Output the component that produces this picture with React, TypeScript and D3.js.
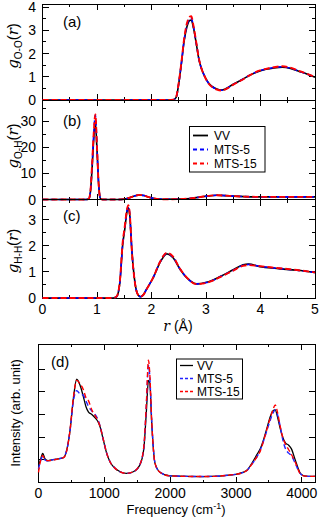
import React, { useEffect, useRef } from 'react';
import * as d3 from 'd3';

// radial distribution functions, g(r)
const rOO = [0, 2.3, 2.4, 2.45, 2.5, 2.55, 2.6, 2.65, 2.7, 2.73, 2.77, 2.82, 2.87, 2.92, 2.98, 3.05, 3.12, 3.2, 3.28, 3.35, 3.5, 3.65, 3.8, 3.95, 4.1, 4.25, 4.4, 4.55, 4.7, 4.85, 5.0];
const gOOvv = [0, 0, 0.01, 0.1, 0.7, 1.6, 2.55, 3.15, 3.42, 3.44, 3.1, 2.45, 1.75, 1.33, 1.0, 0.72, 0.57, 0.47, 0.43, 0.47, 0.68, 0.86, 1.06, 1.22, 1.32, 1.38, 1.41, 1.36, 1.24, 1.12, 0.98];
const gOOmts5 = [0, 0, 0.01, 0.1, 0.72, 1.62, 2.6, 3.22, 3.5, 3.52, 3.15, 2.47, 1.76, 1.33, 1.0, 0.71, 0.56, 0.46, 0.42, 0.46, 0.67, 0.86, 1.07, 1.23, 1.33, 1.4, 1.43, 1.37, 1.25, 1.12, 0.98];
const gOOmts15 = [0, 0, 0.01, 0.12, 0.75, 1.65, 2.65, 3.3, 3.58, 3.61, 3.2, 2.5, 1.78, 1.33, 0.99, 0.7, 0.55, 0.45, 0.41, 0.45, 0.66, 0.85, 1.06, 1.24, 1.34, 1.41, 1.45, 1.39, 1.26, 1.13, 0.98];

const rOH = [0, 0.8, 0.85, 0.88, 0.91, 0.94, 0.97, 1.0, 1.03, 1.06, 1.1, 1.4, 1.5, 1.6, 1.7, 1.78, 1.86, 1.95, 2.05, 2.2, 2.5, 2.7, 2.9, 3.05, 3.2, 3.35, 3.5, 3.7, 4.0, 4.5, 5.0];
const gOHvv = [0, 0, 0.3, 3, 12, 23, 29.5, 19, 6, 0.5, 0, 0, 0.15, 0.7, 1.4, 1.75, 1.5, 0.9, 0.4, 0.1, 0.15, 0.4, 0.95, 1.4, 1.6, 1.5, 1.3, 1.1, 1.0, 1.0, 1.0];
const gOHmts5 = [0, 0, 0.3, 3.2, 13, 25, 32.3, 20, 6, 0.5, 0, 0, 0.15, 0.7, 1.4, 1.75, 1.5, 0.9, 0.4, 0.1, 0.15, 0.4, 0.95, 1.4, 1.62, 1.5, 1.3, 1.1, 1.0, 1.0, 1.0];
const gOHmts15 = [0, 0, 0.3, 3.3, 13.5, 25.5, 32.6, 20, 6, 0.5, 0, 0, 0.15, 0.72, 1.42, 1.78, 1.52, 0.9, 0.4, 0.1, 0.15, 0.4, 0.95, 1.4, 1.62, 1.5, 1.3, 1.1, 1.0, 1.0, 1.0];

const rHH = [0, 1.3, 1.36, 1.42, 1.47, 1.51, 1.55, 1.575, 1.6, 1.64, 1.7, 1.76, 1.8, 1.85, 1.91, 2.03, 2.16, 2.28, 2.4, 2.52, 2.65, 2.83, 3.01, 3.26, 3.5, 3.68, 3.78, 3.99, 4.3, 4.67, 5.0];
const gHHvv = [0, 0, 0.05, 0.6, 2.0, 2.64, 3.3, 3.45, 3.2, 1.81, 0.54, 0.1, 0.05, 0.12, 0.34, 0.77, 1.37, 1.69, 1.53, 1.11, 0.77, 0.54, 0.6, 0.82, 1.08, 1.27, 1.3, 1.2, 1.13, 1.06, 0.98];
const gHHmts5 = [0, 0, 0.05, 0.62, 2.05, 2.7, 3.35, 3.5, 3.22, 1.8, 0.53, 0.1, 0.05, 0.12, 0.34, 0.78, 1.39, 1.71, 1.55, 1.12, 0.77, 0.54, 0.59, 0.81, 1.06, 1.25, 1.28, 1.21, 1.14, 1.06, 0.98];
const gHHmts15 = [0, 0, 0.06, 0.65, 2.1, 2.75, 3.4, 3.55, 3.25, 1.8, 0.52, 0.1, 0.05, 0.12, 0.33, 0.78, 1.4, 1.73, 1.57, 1.13, 0.78, 0.53, 0.58, 0.8, 1.05, 1.23, 1.26, 1.22, 1.15, 1.07, 0.98];

// vibrational spectra
const freq = [0, 30, 64, 100, 150, 200, 300, 380, 430, 480, 530, 580, 630, 680, 720, 760, 810, 860, 900, 935, 985, 1036, 1090, 1140, 1240, 1340, 1440, 1540, 1600, 1640, 1670, 1690, 1720, 1770, 1850, 2000, 2500, 3000, 3100, 3170, 3250, 3320, 3370, 3420, 3470, 3520, 3560, 3595, 3630, 3670, 3710, 3750, 3800, 3840, 3900, 3970, 4030, 4100, 4200];
const specVV = [0.75, 1.0, 1.29, 1.05, 0.97, 1.0, 1.05, 1.1, 1.44, 2.32, 3.71, 4.55, 4.3, 3.8, 3.35, 3.1, 3.0, 2.85, 2.7, 2.46, 1.88, 1.29, 0.9, 0.7, 0.48, 0.41, 0.48, 0.78, 1.5, 3.2, 4.5, 4.4, 2.6, 0.85, 0.45, 0.3, 0.27, 0.37, 0.45, 0.56, 0.9, 1.25, 1.5, 1.9, 2.4, 2.9, 3.15, 3.2, 2.9, 2.4, 2.0, 1.75, 1.65, 1.5, 1.0, 0.45, 0.3, 0.28, 0.28];
const specMTS5 = [0.6, 0.95, 1.15, 1.0, 0.95, 1.0, 1.05, 1.12, 1.45, 2.3, 3.6, 4.05, 3.9, 3.85, 3.6, 3.35, 3.15, 3.0, 2.8, 2.5, 1.88, 1.29, 0.9, 0.7, 0.48, 0.41, 0.48, 0.8, 1.55, 3.5, 5.15, 4.7, 2.7, 0.85, 0.45, 0.3, 0.27, 0.37, 0.44, 0.55, 0.85, 1.15, 1.45, 1.85, 2.3, 2.75, 3.05, 3.2, 3.0, 2.5, 1.9, 1.5, 1.3, 1.2, 0.85, 0.42, 0.3, 0.28, 0.28];
const specMTS15 = [0.45, 0.95, 1.2, 1.0, 0.97, 0.98, 1.05, 1.1, 1.42, 2.35, 3.75, 4.5, 4.35, 4.1, 3.75, 3.6, 3.2, 2.95, 2.75, 2.48, 1.9, 1.3, 0.9, 0.7, 0.48, 0.41, 0.48, 0.8, 1.6, 3.6, 5.39, 4.8, 2.7, 0.85, 0.45, 0.3, 0.27, 0.37, 0.44, 0.55, 0.85, 1.15, 1.4, 1.85, 2.35, 2.85, 3.2, 3.42, 3.1, 2.5, 2.0, 1.7, 1.45, 1.25, 0.9, 0.42, 0.3, 0.28, 0.28];

const seriesNames = ['VV', 'MTS-5', 'MTS-15'];
const FONT = '"Liberation Sans", Arial, Helvetica, sans-serif';

const App = () => {
  const svgRef = useRef<SVGSVGElement>(null);

  useEffect(() => {
    const svg = d3.select(svgRef.current);
    svg.selectAll('*').remove();
    svg.style('font-family', FONT);

    const left = 42.5, right = 315;
    const xR = d3.scaleLinear().domain([0, 5]).range([left, right]);

    const styles = [
      { color: '#000000', dash: null, width: 1.6 },
      { color: '#0000ff', dash: '5,3', width: 1.6 },
      { color: '#ff0000', dash: '6,3', width: 1.9 },
    ];

    const frame = (x, y, xMaj, xMin, yMaj, yMin) => {
      const [x0, x1] = x.range();
      const [y1, y0] = y.range();
      const g = svg.append('g').attr('stroke', '#000').attr('stroke-width', 1).attr('shape-rendering', 'crispEdges');
      const tick = (v, len, axis) => {
        if (axis === 'x') {
          g.append('line').attr('x1', x(v)).attr('x2', x(v)).attr('y1', y1).attr('y2', y1 - len);
          g.append('line').attr('x1', x(v)).attr('x2', x(v)).attr('y1', y0).attr('y2', y0 + len);
        } else {
          g.append('line').attr('y1', y(v)).attr('y2', y(v)).attr('x1', x0).attr('x2', x0 + len);
          g.append('line').attr('y1', y(v)).attr('y2', y(v)).attr('x1', x1).attr('x2', x1 - len);
        }
      };
      xMin.forEach(v => tick(v, 3, 'x'));
      xMaj.forEach(v => tick(v, 6, 'x'));
      yMin.forEach(v => tick(v, 3, 'y'));
      yMaj.forEach(v => tick(v, 6, 'y'));
      g.append('rect').attr('x', x0).attr('y', y0).attr('width', x1 - x0).attr('height', y1 - y0)
        .attr('fill', 'none');
    };

    const drawSeries = (x, y, xs, ys, st) => {
      const line = d3.line<number>()
        .x((_, i) => x(xs[i]))
        .y(d => y(d))
        .curve(d3.curveMonotoneX);
      svg.append('path')
        .attr('d', line(ys))
        .attr('fill', 'none')
        .attr('stroke', st.color)
        .attr('stroke-width', st.width)
        .attr('stroke-dasharray', st.dash);
    };

    const yLabel = (cx, cy, sub) => {
      const t = svg.append('text')
        .attr('transform', `translate(${cx},${cy}) rotate(-90)`)
        .attr('text-anchor', 'middle')
        .style('font-size', '15px');
      t.append('tspan').attr('font-family', '"DejaVu Serif", serif').attr('font-style', 'italic').text('g');
      t.append('tspan').attr('dy', 4).style('font-size', '10px').text(sub);
      t.append('tspan').attr('dy', -4).text('(');
      t.append('tspan').attr('font-family', '"DejaVu Serif", serif').attr('font-style', 'italic').text('r');
      t.append('tspan').text(')');
    };

    const panels = [
      { top: 4, bottom: 100, max: 4.13, maj: [0, 1, 2, 3, 4], min: d3.range(0.5, 4.1, 1), data: [gOOvv, gOOmts5, gOOmts15], xs: rOO, label: '(a)', ly: 27, sub: 'O-O', cy: 46 },
      { top: 100, bottom: 199.5, max: 38.1, maj: [0, 10, 20, 30], min: [5, 15, 25, 35], data: [gOHvv, gOHmts5, gOHmts15], xs: rOH, label: '(b)', ly: 126, sub: 'O-H', cy: 146 },
      { top: 199.5, bottom: 298, max: 3.77, maj: [0, 1, 2, 3], min: [0.5, 1.5, 2.5, 3.5], data: [gHHvv, gHHmts5, gHHmts15], xs: rHH, label: '(c)', ly: 221, sub: 'H-H', cy: 251 },
    ];

    panels.forEach((p, pi) => {
      const y = d3.scaleLinear().domain([0, p.max]).range([p.bottom, p.top]);
      frame(xR, y, d3.range(0, 5.01, 1), d3.range(0.5, 5, 1), p.maj, p.min);
      p.data.forEach((ys, i) => drawSeries(xR, y, p.xs, ys, styles[i]));
      p.maj.forEach(v => {
        svg.append('text').attr('x', 36).attr('y', y(v) + 5)
          .attr('text-anchor', 'end').style('font-size', '14px').text(v);
      });
      svg.append('text').attr('x', 63).attr('y', p.ly).style('font-size', '15px').text(p.label);
      yLabel(18, p.cy, p.sub);
      if (pi === 2) {
        d3.range(0, 6).forEach(v => {
          svg.append('text').attr('x', xR(v)).attr('y', 314)
            .attr('text-anchor', 'middle').style('font-size', '14px').text(v);
        });
        const t = svg.append('text').attr('x', 178).attr('y', 331)
          .attr('text-anchor', 'middle').style('font-size', '14px');
        t.append('tspan').attr('font-family', '"DejaVu Serif", serif').attr('font-style', 'italic').text('r');
        t.append('tspan').text(' (Å)');
      }
    });

    // legend in panel (b)
    const lg = svg.append('g');
    lg.append('rect').attr('x', 189.5).attr('y', 126.5).attr('width', 75.5).attr('height', 45.5)
      .attr('fill', '#fff').attr('stroke', '#000').attr('stroke-width', 1);
    seriesNames.forEach((name, i) => {
      const yy = 135.5 + i * 14;
      lg.append('line').attr('x1', 193).attr('x2', 208).attr('y1', yy).attr('y2', yy)
        .attr('stroke', styles[i].color).attr('stroke-width', 1.8).attr('stroke-dasharray', i ? '4,3' : null);
      lg.append('text').attr('x', 214).attr('y', yy + 4.5).style('font-size', '12px').text(name);
    });

    // panel (d): spectra
    const xF = d3.scaleLinear().domain([0, 4200]).range([38.5, 315]);
    const yI = d3.scaleLinear().domain([0, 6.1]).range([482.7, 344]);
    frame(xF, yI, d3.range(0, 4001, 1000), d3.range(500, 4001, 1000), [1, 2, 3, 4, 5], []);
    const dStyles = [
      { color: '#000000', dash: null, width: 1.3 },
      { color: '#2222ff', dash: '5,3', width: 1.4 },
      { color: '#ff0000', dash: '5,3', width: 1.4 },
    ];
    [specVV, specMTS5, specMTS15].forEach((ys, i) => drawSeries(xF, yI, freq, ys, dStyles[i]));
    d3.range(0, 4001, 1000).forEach(v => {
      svg.append('text').attr('x', xF(v)).attr('y', 498)
        .attr('text-anchor', 'middle').style('font-size', '14px').text(v);
    });
    const ft = svg.append('text').attr('x', 176).attr('y', 514)
      .attr('text-anchor', 'middle').style('font-size', '13px');
    ft.append('tspan').text('Frequency (cm');
    ft.append('tspan').attr('dy', -5).style('font-size', '9px').text('-1');
    ft.append('tspan').attr('dy', 5).text(')');
    svg.append('text')
      .attr('transform', 'translate(20,413) rotate(-90)')
      .attr('text-anchor', 'middle').style('font-size', '13px')
      .text('Intensity (arb. unit)');
    svg.append('text').attr('x', 51).attr('y', 367).style('font-size', '15px').text('(d)');

    const lg2 = svg.append('g');
    lg2.append('rect').attr('x', 176.5).attr('y', 359).attr('width', 66).attr('height', 40)
      .attr('fill', '#fff').attr('stroke', '#000').attr('stroke-width', 1);
    seriesNames.forEach((name, i) => {
      const yy = 365.5 + i * 13;
      lg2.append('line').attr('x1', 180).attr('x2', 193).attr('y1', yy).attr('y2', yy)
        .attr('stroke', dStyles[i].color).attr('stroke-width', 1.3).attr('stroke-dasharray', i ? '3,2' : null);
      lg2.append('text').attr('x', 197).attr('y', yy + 4.5).style('font-size', '12px').text(name);
    });
  }, []);

  return <svg ref={svgRef} width={320} height={518} style={{ position: 'absolute', left: 0, top: 0, background: '#fff' }} />;
};

export default App;
